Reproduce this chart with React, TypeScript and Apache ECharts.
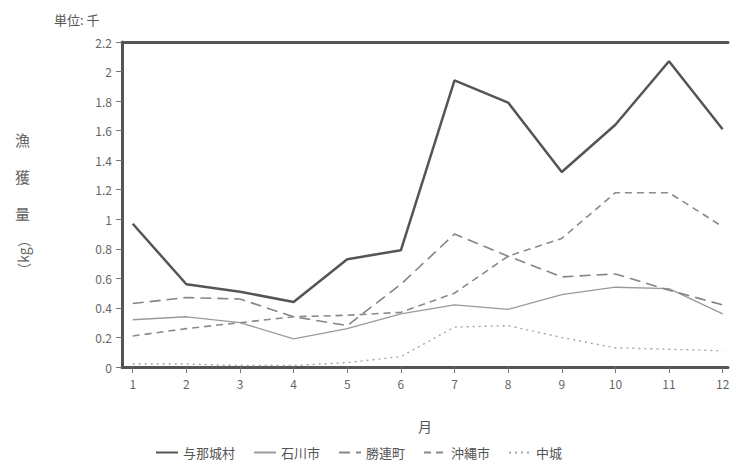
import React, { useEffect, useRef } from "react";
import * as echarts from "echarts";

const months = [1, 2, 3, 4, 5, 6, 7, 8, 9, 10, 11, 12];
const yonashiro = [0.97, 0.56, 0.51, 0.44, 0.73, 0.79, 1.94, 1.79, 1.32, 1.64, 2.07, 1.61];
const ishikawa = [0.32, 0.34, 0.3, 0.19, 0.26, 0.36, 0.42, 0.39, 0.49, 0.54, 0.53, 0.36];
const katsuren = [0.43, 0.47, 0.46, 0.34, 0.28, 0.56, 0.9, 0.75, 0.61, 0.63, 0.52, 0.42];
const okinawa = [0.21, 0.26, 0.3, 0.34, 0.35, 0.37, 0.5, 0.75, 0.87, 1.18, 1.18, 0.95];
const nakagusuku = [0.02, 0.02, 0.01, 0.01, 0.03, 0.07, 0.27, 0.28, 0.2, 0.13, 0.12, 0.11];
const yTicks = [0, 0.2, 0.4, 0.6, 0.8, 1, 1.2, 1.4, 1.6, 1.8, 2, 2.2];

const FONT = "'Noto Sans CJK JP', 'Noto Sans', sans-serif";

function pairs(vals: number[]) {
  return months.map((m, i) => [m, vals[i]]);
}

export default function App() {
  const ref = useRef<HTMLDivElement>(null);
  useEffect(() => {
    document.body.style.margin = "0";
    const chart = echarts.init(ref.current!, null, { renderer: "svg" });
    const mk = (name: string, vals: number[], color: string, width: number, type: any) => ({
      name,
      type: "line",
      data: pairs(vals),
      showSymbol: false,
      symbol: "none",
      lineStyle: { color, width, type },
      itemStyle: { color },
    });
    chart.setOption({
      animation: false,
      backgroundColor: "#ffffff",
      textStyle: { fontFamily: FONT },
      grid: { left: 122, right: 8, top: 42, bottom: 99 },
      legend: {
        bottom: 2,
        left: 150,
        itemWidth: 22,
        itemHeight: 10,
        itemGap: 18,
        itemStyle: { opacity: 0 },
        textStyle: { fontFamily: FONT, fontSize: 13, color: "#555" },
        data: ["与那城村", "石川市", "勝連町", "沖縄市", "中城"],
      },
      xAxis: [
        {
          type: "value",
          min: 0.8,
          max: 12.1,
          name: "月",
          nameLocation: "middle",
          nameGap: 52,
          nameTextStyle: { fontFamily: FONT, fontSize: 14, color: "#555" },
          axisLine: { show: true, lineStyle: { color: "#555", width: 3 } },
          axisTick: { show: true, customValues: months, length: 6, lineStyle: { color: "#777", width: 1 } },
          axisLabel: { customValues: months, fontSize: 12, color: "#666", margin: 10, fontFamily: FONT },
          splitLine: { show: false },
        },
        {
          type: "value",
          position: "top",
          min: 0.8,
          max: 12.1,
          axisLine: { show: true, lineStyle: { color: "#555", width: 3 } },
          axisTick: { show: false },
          axisLabel: { show: false },
          splitLine: { show: false },
        },
      ],
      yAxis: {
        type: "value",
        min: 0,
        max: 2.2,
        interval: 0.2,
        axisLine: { show: true, lineStyle: { color: "#555", width: 3 } },
        axisTick: { show: true, length: 6, lineStyle: { color: "#777", width: 1 } },
        axisLabel: {
          fontSize: 12,
          color: "#666",
          margin: 10,
          fontFamily: FONT,
          formatter: (v: number) => {
            const t = yTicks.find((x) => Math.abs(x - v) < 1e-6);
            return t === undefined ? "" : String(t);
          },
        },
        splitLine: { show: false },
      },
      graphic: [
        { type: "text", left: 54, top: 13, style: { text: "単位: 千", font: `13px ${FONT}`, fill: "#555" } },
        { type: "text", left: 15, top: 132, style: { text: "漁", font: `15px ${FONT}`, fill: "#666" } },
        { type: "text", left: 15, top: 169, style: { text: "獲", font: `15px ${FONT}`, fill: "#666" } },
        { type: "text", left: 15, top: 206, style: { text: "量", font: `15px ${FONT}`, fill: "#666" } },
        {
          type: "text",
          x: 23,
          y: 255,
          rotation: Math.PI / 2,
          style: { text: "（kg）", font: `14px ${FONT}`, fill: "#666", align: "center", verticalAlign: "middle" },
        },
      ],
      series: [
        mk("与那城村", yonashiro, "#555555", 2.5, "solid"),
        mk("石川市", ishikawa, "#9a9a9a", 1.3, "solid"),
        mk("勝連町", katsuren, "#858585", 1.6, [11, 6]),
        mk("沖縄市", okinawa, "#8a8a8a", 1.6, [7, 5]),
        mk("中城", nakagusuku, "#a5a5a5", 1.4, [2, 4]),
      ],
    });
    return () => chart.dispose();
  }, []);
  return <div ref={ref} style={{ width: 736, height: 466 }} />;
}
